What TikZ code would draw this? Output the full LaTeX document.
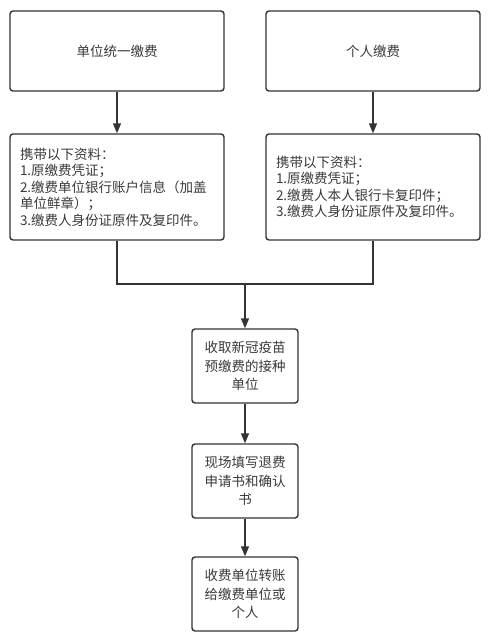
\documentclass[tikz,border=0pt]{standalone}
\usepackage{fontspec}
\setmainfont{Noto Sans CJK SC}
\usetikzlibrary{arrows.meta}
\definecolor{lc}{HTML}{333333}
\definecolor{tc}{HTML}{3A3A3A}
\begin{document}
\begin{tikzpicture}[x=1pt,y=-1pt,
  box/.style={draw=lc, line width=1.4pt, rounded corners=3pt, fill=white, text=tc,
    font=\fontsize{13.5}{16.5}\selectfont, inner sep=0pt},
  smallbox/.style={box, minimum width=106pt, minimum height=74pt, text width=84pt, align=center,
    font=\fontsize{13.5}{18.5}\selectfont},
  arr/.style={draw=lc, line width=1.4pt, -{Triangle[length=10pt,width=8pt]}},
  ln/.style={draw=lc, line width=1.4pt}]
\useasboundingbox (0,0) rectangle (489,643);
\node[box, minimum width=214pt, minimum height=80pt] (a) at (117,51) {单位统一缴费};
\node[box, minimum width=214pt, minimum height=80pt] (b) at (373,51) {个人缴费};
\node[box, minimum width=214pt, minimum height=106pt, text width=194pt, align=left] (c) at (117,187)
  {携带以下资料：\\1.原缴费凭证；\\2.缴费单位银行账户信息（加盖\\单位鲜章）；\\3.缴费人身份证原件及复印件。};
\node[box, minimum width=214pt, minimum height=106pt, text width=194pt, align=left] (d) at (373,187)
  {携带以下资料：\\1.原缴费凭证；\\2.缴费人本人银行卡复印件；\\3.缴费人身份证原件及复印件。};
\node[smallbox] (e) at (245,366) {收取新冠疫苗\\预缴费的接种\\单位};
\node[smallbox] (f) at (245,481) {现场填写退费\\申请书和确认\\书};
\node[smallbox] (g) at (245,594) {收费单位转账\\给缴费单位或\\个人};
\coordinate (j) at (245,284);
\draw[arr] (a) -- (c);
\draw[arr] (b) -- (d);
\draw[ln] (c.south) |- (j);
\draw[ln] (d.south) |- (j);
\draw[arr] (j) -- (e);
\draw[arr] (e) -- (f);
\draw[arr] (f) -- (g);
\end{tikzpicture}
\end{document}
